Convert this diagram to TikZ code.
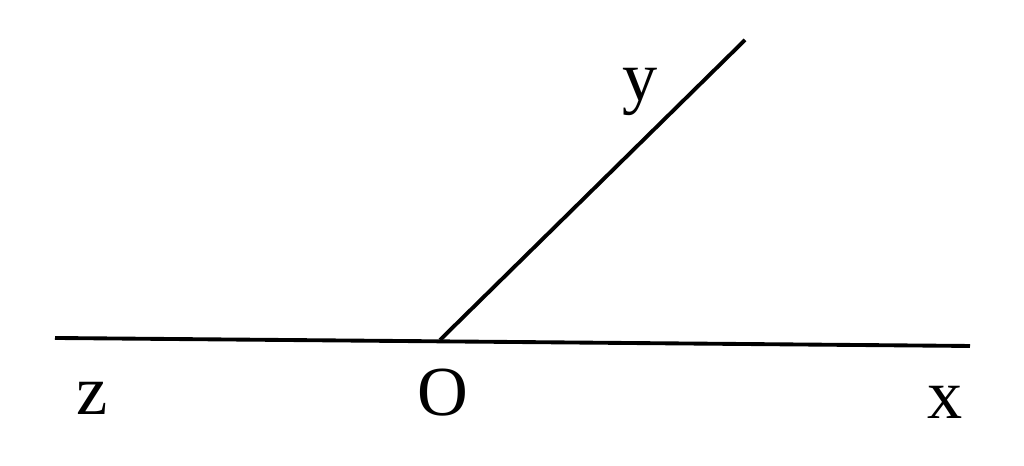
\documentclass[tikz,border=0pt]{standalone}
\usepackage{amsmath}
\usepackage{xcolor}
\usepackage{fontspec}
\setmainfont{Liberation Serif}

\begin{document}
\begin{tikzpicture}
        \useasboundingbox (0,0) rectangle (10.24,4.66);
        \tikzset{axis/.style={line width=1.1pt, black},
                 lbl/.style={font=\fontsize{20}{23}\selectfont}}
        \coordinate (zend) at (0.55,1.28);
        \coordinate (xend) at (9.70,1.20);
        \coordinate (O) at (4.40,1.26);
        \coordinate (yend) at (7.45,4.26);
        \draw[axis] (zend) -- (xend);
        \draw[axis] (O) -- (yend);
        \node[lbl] (zlab) at (0.92,0.68) {z};
        \node[lbl] (Olab) at (4.43,0.73) {O};
        \node[lbl] (xlab) at (9.45,0.64) {x};
        \node[lbl] (ylab) at (6.40,3.74) {y};
    \end{tikzpicture}
\end{document}
